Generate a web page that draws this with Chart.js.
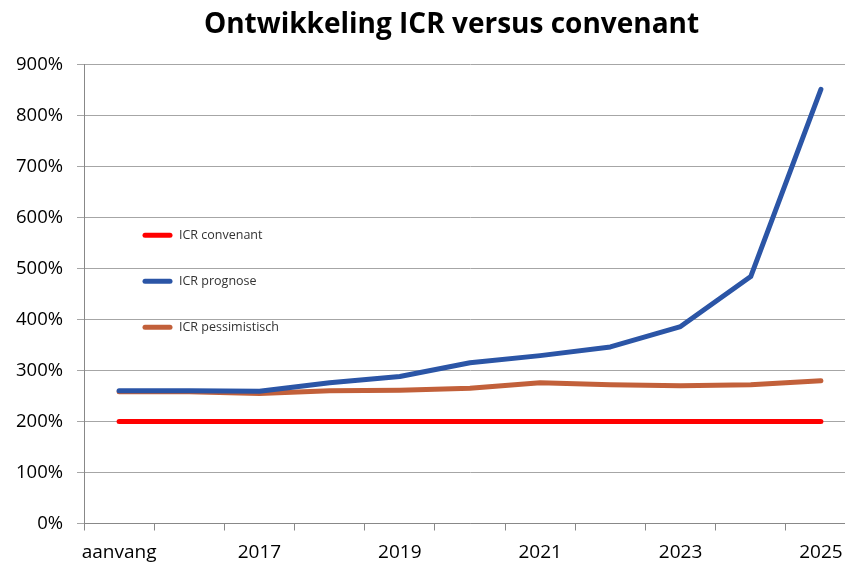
<!DOCTYPE html>
<html>
<head>
<meta charset="utf-8">
<script src="https://cdn.jsdelivr.net/npm/chart.js@4.4.1/dist/chart.umd.min.js"></script>
<style>
  html, body { margin: 0; padding: 0; background: #fff; overflow: hidden; }
  #wrap { position: relative; width: 903px; height: 562px; }
</style>
</head>
<body>
<div id="wrap"><canvas id="c" width="903" height="562"></canvas></div>
<script>
const categories = ['aanvang', '2016', '2017', '2018', '2019', '2020', '2021', '2022', '2023', '2024', '2025'];
const convenant = [200, 200, 200, 200, 200, 200, 200, 200, 200, 200, 200];
const prognose = [260, 260, 259, 276, 288, 315, 329, 346, 386, 484, 851];
const pessimistisch = [258, 258, 255, 260, 261, 265, 276, 272, 270, 272, 280];
const yTicks = [0, 100, 200, 300, 400, 500, 600, 700, 800, 900];
const title = 'Ontwikkeling ICR versus convenant';

const FONT = "'Open Sans', 'DejaVu Sans', sans-serif";

// center the title over the full canvas width
const titleCenterPlugin = {
  id: 'titleCenter',
  afterLayout(chart) {
    const t = chart.titleBlock;
    if (t) { t.left = 0; t.right = chart.width; t.width = chart.width; }
  }
};

const legendPlugin = {
  id: 'innerLegend',
  afterDatasetsDraw(chart) {
    const ctx = chart.ctx;
    const a = chart.chartArea;
    const x0 = a.left + 59;
    const y0 = a.top + 171;
    const step = 46;
    ctx.save();
    chart.data.datasets.forEach((ds, i) => {
      const y = y0 + i * step;
      ctx.beginPath();
      ctx.strokeStyle = ds.borderColor;
      ctx.lineWidth = 5;
      ctx.lineCap = 'round';
      ctx.moveTo(x0 + 2, y);
      ctx.lineTo(x0 + 27, y);
      ctx.stroke();
      ctx.fillStyle = '#333';
      ctx.font = "12.5px " + FONT;
      ctx.textBaseline = 'middle';
      ctx.textAlign = 'left';
      ctx.fillText(ds.label, x0 + 36, y);
    });
    ctx.restore();
  }
};

new Chart(document.getElementById('c'), {
  type: 'line',
  data: {
    labels: categories,
    datasets: [
      { label: 'ICR convenant', data: convenant, borderColor: '#FF0000', backgroundColor: '#FF0000' },
      { label: 'ICR prognose', data: prognose, borderColor: '#2B55A6', backgroundColor: '#2B55A6' },
      { label: 'ICR pessimistisch', data: pessimistisch, borderColor: '#C2603A', backgroundColor: '#C2603A' }
    ]
  },
  options: {
    responsive: false,
    animation: false,
    devicePixelRatio: 1,
    layout: { padding: { left: 0, right: 47, top: 0, bottom: 0 } },
    elements: {
      point: { radius: 0, hoverRadius: 0 },
      line: { borderWidth: 5, tension: 0, borderCapStyle: 'round', borderJoinStyle: 'round' }
    },
    plugins: {
      legend: { display: false },
      tooltip: { enabled: false },
      title: {
        display: true,
        text: title,
        color: '#000',
        font: { family: FONT, size: 28, weight: 'bold', lineHeight: 1.2 },
        padding: { top: 8, bottom: 22.7 }
      }
    },
    scales: {
      x: {
        offset: true,
        afterFit(scale) { scale.height = 38.5; },
        grid: { display: true, drawOnChartArea: false, drawTicks: true, tickLength: 7, offset: true, color: '#888' },
        border: { display: true, color: '#888', width: 1 },
        ticks: {
          autoSkip: false,
          maxRotation: 0,
          padding: 11,
          color: '#000',
          font: { family: FONT, size: 19 },
          callback: (v, i) => (i % 2 === 0 ? categories[i] : '')
        }
      },
      y: {
        min: 0,
        max: 900,
        afterFit(scale) { scale.width = 84; },
        afterBuildTicks(scale) { scale.ticks = yTicks.map(v => ({ value: v })); },
        grid: { color: '#a6a6a6', drawTicks: true, tickLength: 7 },
        border: { display: true, color: '#888', width: 1 },
        ticks: {
          padding: 14,
          color: '#000',
          font: { family: FONT, size: 18.5 },
          callback: v => v + '%'
        }
      }
    }
  },
  plugins: [titleCenterPlugin, legendPlugin]
});
</script>
</body>
</html>
